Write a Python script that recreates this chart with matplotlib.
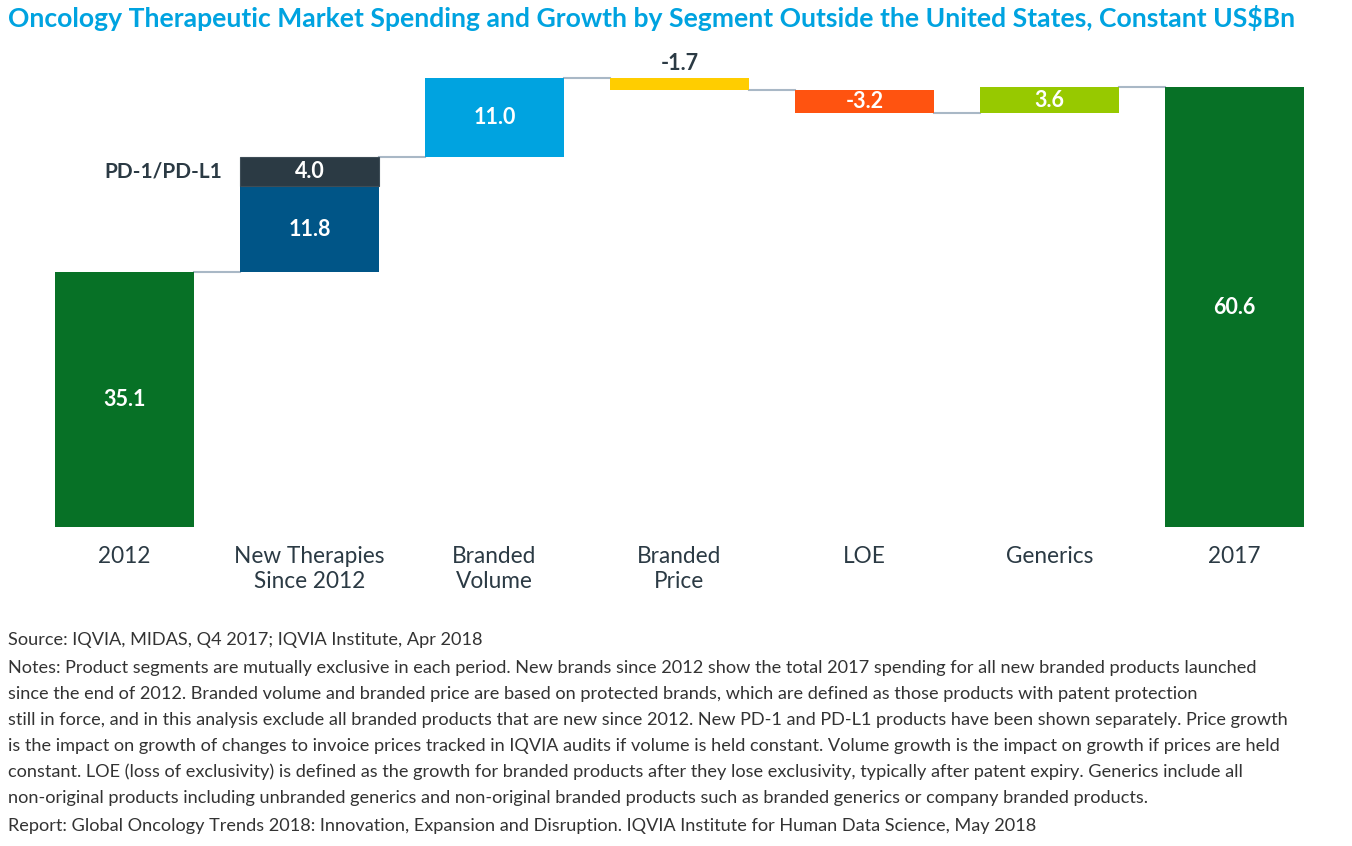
import matplotlib
matplotlib.use('Agg')
import matplotlib.pyplot as plt

plt.rcParams['font.family'] = ['Lato', 'DejaVu Sans']

categories = ['2012', 'New Therapies\nSince 2012', 'Branded\nVolume', 'Branded\nPrice', 'LOE', 'Generics', '2017']
start_value = 35.1
new_therapies = 11.8
pd1_value = 4.0
changes = [11.0, -1.7, -3.2, 3.6]
end_value = 60.6
colors = ['#077126', '#005587', '#2B3A44', '#00A3E0', '#FFCD00', '#FF5310', '#97C900']

title = 'Oncology Therapeutic Market Spending and Growth by Segment Outside the United States, Constant US$Bn'
notes = [
    'Source: IQVIA, MIDAS, Q4 2017; IQVIA Institute, Apr 2018',
    'Notes: Product segments are mutually exclusive in each period. New brands since 2012 show the total 2017 spending for all new branded products launched',
    'since the end of 2012. Branded volume and branded price are based on protected brands, which are defined as those products with patent protection',
    'still in force, and in this analysis exclude all branded products that are new since 2012. New PD-1 and PD-L1 products have been shown separately. Price growth',
    'is the impact on growth of changes to invoice prices tracked in IQVIA audits if volume is held constant. Volume growth is the impact on growth if prices are held',
    'constant. LOE (loss of exclusivity) is defined as the growth for branded products after they lose exclusivity, typically after patent expiry. Generics include all',
    'non-original products including unbranded generics and non-original branded products such as branded generics or company branded products.',
    'Report: Global Oncology Trends 2018: Innovation, Expansion and Disruption. IQVIA Institute for Human Data Science, May 2018',
]
note_y = [640, 668, 694, 720, 746, 772, 798, 826]

W, H = 1352, 846
fig = plt.figure(figsize=(W / 100, H / 100), dpi=100)
ax = fig.add_axes([32 / W, 1 - 527 / H, 1295 / W, 477 / H])

width = 0.75
conn = '#A9B8C6'
txt_dark = '#2B3A44'
vfs = 15.5

# 2012 bar
ax.bar(0, start_value, width, color=colors[0])
ax.text(0, start_value / 2, f'{start_value:.1f}', color='white', ha='center', va='center',
        fontsize=vfs, fontweight='bold')

# new therapies, stacked with PD-1
base = start_value
ax.bar(1, new_therapies, width, bottom=base, color=colors[1])
ax.text(1, base + new_therapies / 2, f'{new_therapies:.1f}', color='white', ha='center', va='center',
        fontsize=vfs, fontweight='bold')
ax.plot([0 + width / 2, 1 - width / 2], [base, base], color=conn, lw=1.5, zorder=0)
base += new_therapies
ax.bar(1, pd1_value, width, bottom=base, color=colors[2], edgecolor='#3E4D57', linewidth=0.8)
ax.text(1, base + pd1_value / 2, f'{pd1_value:.1f}', color='white', ha='center', va='center',
        fontsize=vfs, fontweight='bold')
ax.text(1 - width / 2 - 0.1, base + pd1_value / 2, 'PD-1/PD-L1', color=txt_dark, ha='right', va='center',
        fontsize=15, fontweight='bold')
base += pd1_value

# the remaining changes
for i, v in enumerate(changes):
    x = i + 2
    bottom = base if v > 0 else base + v
    ax.bar(x, abs(v), width, bottom=bottom, color=colors[i + 3])
    ax.plot([x - 1 + width / 2, x - width / 2], [base, base], color=conn, lw=1.5, zorder=0)
    label = f'{v:.1f}'
    if i == 1:
        ax.text(x, base + 2.0, label, color=txt_dark, ha='center', va='center', fontsize=vfs, fontweight='bold')
    else:
        ax.text(x, bottom + abs(v) / 2, label, color='white', ha='center', va='center',
                fontsize=vfs, fontweight='bold')
    base += v

# 2017 bar
ax.bar(6, end_value, width, color=colors[0])
ax.plot([5 + width / 2, 6 - width / 2], [end_value, end_value], color=conn, lw=1.5, zorder=0)
ax.text(6, end_value / 2, f'{end_value:.1f}', color='white', ha='center', va='center',
        fontsize=vfs, fontweight='bold')

ax.set_xlim(-0.5, 6.5)
ax.set_ylim(0, 65.7)
ax.set_xticks(range(len(categories)))
ax.set_xticklabels(categories, fontsize=16.3, color=txt_dark, linespacing=1.2)
ax.tick_params(axis='x', length=0, pad=14)
ax.set_yticks([])
for s in ax.spines.values():
    s.set_visible(False)

fig.text(8 / W, 1 - 18 / H, title, color='#00A3E0', fontsize=19.1, fontweight='bold', va='center')
for line, y in zip(notes, note_y):
    fig.text(8 / W, 1 - y / H, line, color='#333333', fontsize=13.1, va='center')

fig.savefig('out.png', dpi=100)
